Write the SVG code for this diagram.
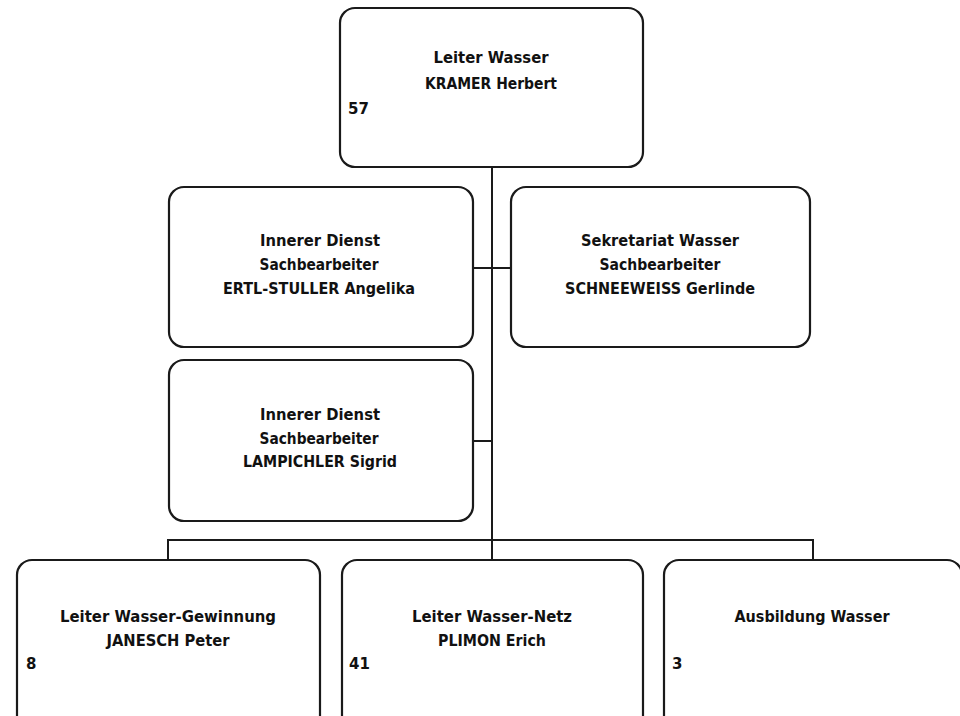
<svg xmlns="http://www.w3.org/2000/svg" width="960" height="716" viewBox="0 0 960 716">
<style>
.box{fill:#fff;stroke:#1a1a1a;stroke-width:2.2}
.t{font-family:"DejaVu Sans",Verdana,sans-serif;font-weight:bold;font-size:15px;fill:#111;text-anchor:middle}
.n{font-family:"DejaVu Sans",Verdana,sans-serif;font-weight:bold;font-size:15px;fill:#111}
.c{stroke:#1a1a1a;stroke-width:2;fill:none}
</style>
<rect width="960" height="716" fill="#fff"/>
<g id="connectors">
<line class="c" x1="492" y1="167" x2="492" y2="560"/>
<line class="c" x1="473" y1="268" x2="511" y2="268"/>
<line class="c" x1="473" y1="441" x2="492" y2="441"/>
<polyline class="c" points="168,560 168,540 813,540 813,560"/>
</g>
<g id="n-leiter">
<rect class="box" x="340" y="8" width="303" height="159" rx="15"/>
<text class="t" x="491" y="63" textLength="115" lengthAdjust="spacingAndGlyphs">Leiter Wasser</text>
<text class="t" x="491" y="89" textLength="132" lengthAdjust="spacingAndGlyphs">KRAMER Herbert</text>
<text class="n" x="348" y="114">57</text>
</g>
<g id="n-ertl">
<rect class="box" x="169" y="187" width="304" height="160" rx="15"/>
<text class="t" x="320" y="246" textLength="120" lengthAdjust="spacingAndGlyphs">Innerer Dienst</text>
<text class="t" x="319" y="270" textLength="119" lengthAdjust="spacingAndGlyphs">Sachbearbeiter</text>
<text class="t" x="319" y="294" textLength="192" lengthAdjust="spacingAndGlyphs">ERTL-STULLER Angelika</text>
</g>
<g id="n-schneeweiss">
<rect class="box" x="511" y="187" width="299" height="160" rx="15"/>
<text class="t" x="660" y="246" textLength="158" lengthAdjust="spacingAndGlyphs">Sekretariat Wasser</text>
<text class="t" x="660" y="270" textLength="121" lengthAdjust="spacingAndGlyphs">Sachbearbeiter</text>
<text class="t" x="660" y="294" textLength="190" lengthAdjust="spacingAndGlyphs">SCHNEEWEISS Gerlinde</text>
</g>
<g id="n-lampichler">
<rect class="box" x="169" y="360" width="304" height="161" rx="15"/>
<text class="t" x="320" y="420" textLength="120" lengthAdjust="spacingAndGlyphs">Innerer Dienst</text>
<text class="t" x="319" y="444" textLength="119" lengthAdjust="spacingAndGlyphs">Sachbearbeiter</text>
<text class="t" x="320" y="467" textLength="154" lengthAdjust="spacingAndGlyphs">LAMPICHLER Sigrid</text>
</g>
<g id="n-gewinnung">
<rect class="box" x="17" y="560" width="303" height="175" rx="15"/>
<text class="t" x="168" y="622" textLength="216" lengthAdjust="spacingAndGlyphs">Leiter Wasser-Gewinnung</text>
<text class="t" x="168" y="646" textLength="123" lengthAdjust="spacingAndGlyphs">JANESCH Peter</text>
<text class="n" x="26" y="669">8</text>
</g>
<g id="n-netz">
<rect class="box" x="342" y="560" width="301" height="175" rx="15"/>
<text class="t" x="492" y="622" textLength="160" lengthAdjust="spacingAndGlyphs">Leiter Wasser-Netz</text>
<text class="t" x="492" y="646" textLength="108" lengthAdjust="spacingAndGlyphs">PLIMON Erich</text>
<text class="n" x="349" y="669">41</text>
</g>
<g id="n-ausbildung">
<rect class="box" x="664" y="560" width="298" height="175" rx="15"/>
<text class="t" x="812" y="622" textLength="155" lengthAdjust="spacingAndGlyphs">Ausbildung Wasser</text>
<text class="n" x="672" y="669">3</text>
</g>
</svg>
